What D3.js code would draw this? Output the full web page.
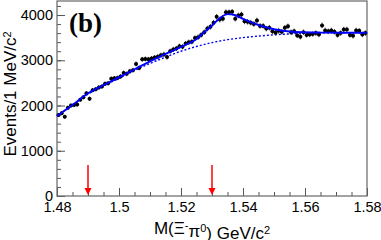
<!DOCTYPE html>
<html>
<head>
<meta charset="utf-8">
<script src="https://cdn.jsdelivr.net/npm/d3@7"></script>
<style>
	body { margin: 0; background: #fff; }
	text { font-family: "Liberation Sans", Arial, Helvetica, sans-serif; }
</style>
</head>
<body>
<div id="chartContainer"></div>
<script>

// bin centres (1 MeV bins) and counts
let binCenters = [
	1.4805, 1.4815, 1.4825, 1.4835, 1.4845, 1.4855, 1.4865, 1.4875, 1.4885, 1.4895,
	1.4905, 1.4915, 1.4925, 1.4935, 1.4945, 1.4955, 1.4965, 1.4975, 1.4985, 1.4995,
	1.5005, 1.5015, 1.5025, 1.5035, 1.5045, 1.5055, 1.5065, 1.5075, 1.5085, 1.5095,
	1.5105, 1.5115, 1.5125, 1.5135, 1.5145, 1.5155, 1.5165, 1.5175, 1.5185, 1.5195,
	1.5205, 1.5215, 1.5225, 1.5235, 1.5245, 1.5255, 1.5265, 1.5275, 1.5285, 1.5295,
	1.5305, 1.5315, 1.5325, 1.5335, 1.5345, 1.5355, 1.5365, 1.5375, 1.5385, 1.5395,
	1.5405, 1.5415, 1.5425, 1.5435, 1.5445, 1.5455, 1.5465, 1.5475, 1.5485, 1.5495,
	1.5505, 1.5515, 1.5525, 1.5535, 1.5545, 1.5555, 1.5565, 1.5575, 1.5585, 1.5595,
	1.5605, 1.5615, 1.5625, 1.5635, 1.5645, 1.5655, 1.5665, 1.5675, 1.5685, 1.5695,
	1.5705, 1.5715, 1.5725, 1.5735, 1.5745, 1.5755, 1.5765, 1.5775, 1.5785, 1.5795
];

let binCounts = [
	1790, 1830, 1750, 1950, 2000, 2010, 2020, 2130, 2180, 2270,
	2150, 2340, 2360, 2400, 2420, 2480, 2490, 2590, 2600, 2610,
	2640, 2720, 2700, 2760, 2780, 2920, 2830, 3020, 3030, 3020,
	3040, 3060, 3080, 3110, 3130, 3070, 3200, 3240, 3260, 3310,
	3300, 3370, 3400, 3410, 3490, 3510, 3560, 3620, 3700, 3740,
	3830, 3960, 3900, 3920, 4060, 4060, 4070, 3920, 3990, 4010,
	3860, 3850, 3830, 3800, 3880, 3760, 3760, 3700, 3720, 3640,
	3610, 3650, 3630, 3720, 3750, 3620, 3640, 3550, 3520, 3620,
	3560, 3570, 3580, 3600, 3570, 3770, 3660, 3640, 3660, 3630,
	3560, 3600, 3680, 3680, 3560, 3540, 3660, 3650, 3570, 3600
];

// fit curves
let totalX = [1.480, 1.485, 1.490, 1.495, 1.500, 1.505, 1.510, 1.515, 1.520, 1.525, 1.5275,
	1.530, 1.5325, 1.535, 1.5375, 1.540, 1.545, 1.550, 1.555, 1.560, 1.565, 1.570, 1.575, 1.580];
let totalY = [1770, 2010, 2270, 2450, 2620, 2800, 2975, 3140, 3295, 3470, 3620,
	3770, 3930, 4020, 3995, 3915, 3780, 3685, 3635, 3618, 3612, 3610, 3608, 3606];

let bkgX = [1.480, 1.485, 1.490, 1.495, 1.500, 1.505, 1.510, 1.515, 1.520, 1.525, 1.530,
	1.535, 1.540, 1.545, 1.550, 1.555, 1.560, 1.565, 1.570, 1.575, 1.580];
let bkgY = [1770, 2010, 2250, 2440, 2600, 2775, 2930, 3070, 3200, 3305, 3390,
	3455, 3500, 3535, 3562, 3582, 3596, 3604, 3608, 3611, 3613];

// signal window arrows
let arrowX = [1.49, 1.53];

// axis ticks
let xMajorTicks = [1.48, 1.50, 1.52, 1.54, 1.56, 1.58],
	xTickLabels = ["1.48", "1.5", "1.52", "1.54", "1.56", "1.58"],
	yMajorTicks = [0, 1000, 2000, 3000, 4000],
	yTickLabels = ["0", "1000", "2000", "3000", "4000"];


function draw () {

	let canvasWidth 	= 381,
		canvasHeight 	= 240,
		frameLeft 		= 57,
		frameRight 		= 367,
		frameTop 		= 1,
		frameBottom 	= 196;

	let svg = d3.select("#chartContainer")
		.append("svg")
			.attr("width", canvasWidth)
			.attr("height", canvasHeight);

	let xScale = d3.scaleLinear()
		.domain([1.48, 1.58])
		.range([frameLeft, frameRight]);

	let yScale = d3.scaleLinear()
		.domain([0, 4310])
		.range([frameBottom, frameTop]);

	// minor ticks
	let xMinor = d3.range(1.48, 1.5801, 0.005),
		yMinor = d3.range(0, 4301, 200);

	let xMinorAxis = d3.axisBottom(xScale).tickValues(xMinor).tickSize(-4).tickFormat("");
	let yMinorAxis = d3.axisLeft(yScale).tickValues(yMinor).tickSize(-4).tickFormat("");

	svg.append("g")
		.attr("transform", "translate(0," + frameBottom + ")")
		.call(xMinorAxis);

	svg.append("g")
		.attr("transform", "translate(" + frameLeft + ",0)")
		.call(yMinorAxis);

	// major ticks + labels
	let xAxis = d3.axisBottom(xScale)
		.tickValues(xMajorTicks)
		.tickSize(-8)
		.tickPadding(6)
		.tickFormat(function (d, i) { return xTickLabels[i]; });

	let yAxis = d3.axisLeft(yScale)
		.tickValues(yMajorTicks)
		.tickSize(-8)
		.tickPadding(4)
		.tickFormat(function (d, i) { return yTickLabels[i]; });

	svg.append("g")
		.attr("transform", "translate(0," + frameBottom + ")")
		.call(xAxis);

	svg.append("g")
		.attr("transform", "translate(" + frameLeft + ",0)")
		.call(yAxis);

	svg.selectAll(".tick line").style("stroke", "#555");
	svg.selectAll(".domain").remove();
	svg.selectAll(".tick text")
		.style("font-size", "14.5px")
		.style("fill", "#000");

	// frame
	svg.append("rect")
		.attr("x", frameLeft)
		.attr("y", frameTop)
		.attr("width", frameRight - frameLeft)
		.attr("height", frameBottom - frameTop)
		.attr("fill", "none")
		.attr("stroke", "#666")
		.attr("stroke-width", 1.2);

	// fit curves
	let bkgLine = d3.line()
		.x(function (d, i) { return xScale(bkgX[i]); })
		.y(function (d) { return yScale(d); })
		.curve(d3.curveMonotoneX);

	let totalLine = d3.line()
		.x(function (d, i) { return xScale(totalX[i]); })
		.y(function (d) { return yScale(d); })
		.curve(d3.curveMonotoneX);

	svg.append("path")
		.attr("d", bkgLine(bkgY))
		.attr("fill", "none")
		.attr("stroke", "#0000ff")
		.attr("stroke-width", 1.4)
		.attr("stroke-dasharray", "2,2");

	// data points with error bars
	let points = svg.selectAll(".point")
		.data(binCounts)
			.enter()
				.append("g")
					.attr("class", "point")
					.attr("transform", function (d, i) {
						return "translate(" + xScale(binCenters[i]) + "," + yScale(d) + ")";
					});

	points.append("line")
		.attr("x1", 0)
		.attr("x2", 0)
		.attr("y1", function (d) { return yScale(d + Math.sqrt(d)) - yScale(d); })
		.attr("y2", function (d) { return yScale(d - Math.sqrt(d)) - yScale(d); })
		.attr("stroke", "#333")
		.attr("stroke-width", 0.9);

	points.append("line")
		.attr("x1", xScale(1.4795) - xScale(1.48))
		.attr("x2", xScale(1.4805) - xScale(1.48))
		.attr("y1", 0)
		.attr("y2", 0)
		.attr("stroke", "#333")
		.attr("stroke-width", 0.9);

	points.append("circle")
		.attr("r", 2)
		.attr("fill", "#000");

	svg.append("path")
		.attr("d", totalLine(totalY))
		.attr("fill", "none")
		.attr("stroke", "#0000ff")
		.attr("stroke-width", 1.9);

	// red arrows
	let arrows = svg.selectAll(".arrow")
		.data(arrowX)
			.enter()
				.append("g")
					.attr("transform", function (d) { return "translate(" + xScale(d) + ",0)"; });

	arrows.append("line")
		.attr("x1", 0)
		.attr("x2", 0)
		.attr("y1", 165)
		.attr("y2", 189)
		.attr("stroke", "#ff0000")
		.attr("stroke-width", 1.5);

	arrows.append("path")
		.attr("d", "M-3.5,188 L3.5,188 L0,195 Z")
		.attr("fill", "#ff0000");

	// panel label
	svg.append("text")
		.attr("x", 69)
		.attr("y", 32)
		.style("font-family", "'Liberation Serif', 'Times New Roman', serif")
		.style("font-weight", "bold")
		.style("font-size", "27px")
		.text("(b)");

	// axis titles
	let xTitle = svg.append("text")
		.attr("x", 212)
		.attr("y", 234)
		.attr("text-anchor", "middle")
		.style("font-size", "17px");

	xTitle.append("tspan").text("M(Ξ");
	xTitle.append("tspan").attr("dy", "-0.45em").style("font-size", "11px").text("-");
	xTitle.append("tspan").attr("dy", "0.45em").text("π");
	xTitle.append("tspan").attr("dy", "-0.45em").style("font-size", "11px").text("0");
	xTitle.append("tspan").attr("dy", "0.45em").text(") GeV/c");
	xTitle.append("tspan").attr("dy", "-0.45em").style("font-size", "11px").text("2");

	let yTitle = svg.append("text")
		.attr("transform", "translate(16,94) rotate(-90)")
		.attr("text-anchor", "middle")
		.style("font-size", "17px");

	yTitle.append("tspan").text("Events/1 MeV/c");
	yTitle.append("tspan").attr("dy", "-0.45em").style("font-size", "11px").text("2");
};

draw();

</script>
</body>
</html>
